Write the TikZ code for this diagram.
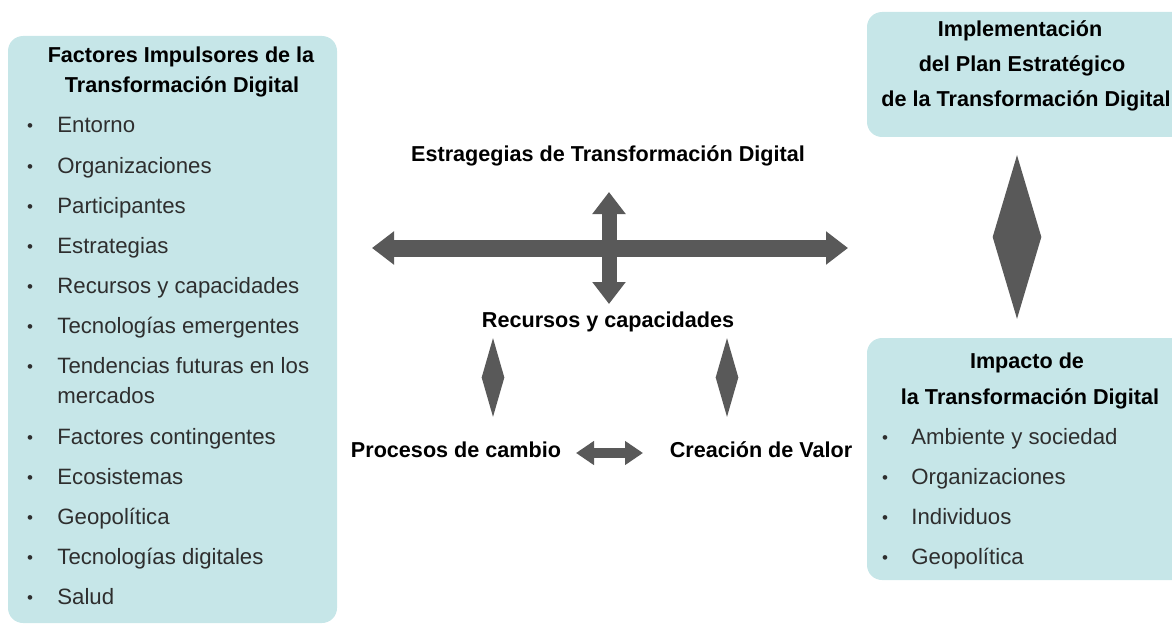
\documentclass[tikz,border=0pt]{standalone}
\usepackage{fontspec}
\setmainfont{Liberation Sans}
\usetikzlibrary{positioning,arrows.meta,shapes.geometric}

\definecolor{panelfill}{HTML}{C6E6E8}
\definecolor{arrowgray}{HTML}{595959}
\definecolor{itemgray}{HTML}{2E2E2E}

\tikzset{
  panel/.style={fill=panelfill, rounded corners=7.5pt, inner sep=0pt},
  head/.style={font=\fontsize{10.8}{12}\selectfont\bfseries, anchor=base, inner sep=0pt},
  item/.style={font=\fontsize{11.1}{12}\selectfont, text=itemgray, anchor=base west, inner sep=0pt},
  bullet/.style={font=\fontsize{8.5}{9}\selectfont, text=itemgray, anchor=base, inner sep=0pt},
  fatarrow/.style={arrowgray, line width=8.5pt, {Triangle[length=11pt,width=16pt]}-{Triangle[length=11pt,width=16pt]}},
  thinarrow/.style={arrowgray, line width=5pt, {Triangle[length=9pt,width=11.5pt]}-{Triangle[length=9pt,width=11.5pt]}},
  spindle/.style={diamond, fill=arrowgray, inner sep=0pt}
}

\begin{document}
\begin{tikzpicture}[x=0.5pt,y=-0.5pt]
		\useasboundingbox (0,0) rectangle (1172,626);
		
		% Draw the boxes
		\node[panel, minimum width=164.5pt, minimum height=293.5pt] (drivers) at (172.5,329.5) {};
		\node[panel, minimum width=165pt, minimum height=62.5pt] (plan) at (1032,74.5) {};
		\node[panel, minimum width=165pt, minimum height=121pt] (impact) at (1032,459) {};
		
		% Left box text
		\node[head] (drvt1) at (181,63) {Factores Impulsores de la};
		\node[head] (drvt2) at (182,93) {Transformación Digital};
		\foreach \y/\txt [count=\i] in {133/Entorno, 173/Organizaciones, 213/Participantes,
			253/Estrategias, 293/Recursos y capacidades, 333/Tecnologías emergentes,
			373/Tendencias futuras en los, 444/Factores contingentes, 484/Ecosistemas,
			524/Geopolítica, 564/Tecnologías digitales, 604/Salud} {
			\node[bullet] (db\i) at (30,\y-1) {•};
			\node[item] (di\i) at (57,\y) {\txt};
		}
		\node[item] (di7b) at (57,403) {mercados};
		
		% Right boxes text
		\node[head] (plant1) at (1020,37) {Implementación};
		\node[head] (plant2) at (1022,72) {del Plan Estratégico};
		\node[head] (plant3) at (1026,107) {de la Transformación Digital};
		\node[head] (impt1) at (1027,368) {Impacto de};
		\node[head] (impt2) at (1030,404) {la Transformación Digital};
		\foreach \y/\txt [count=\i] in {444/Ambiente y sociedad, 484/Organizaciones,
			524/Individuos, 564/Geopolítica} {
			\node[bullet] (ib\i) at (885,\y-1) {•};
			\node[item] (ii\i) at (911,\y) {\txt};
		}
		
		% Middle labels
		\node[head] (strat) at (608,162) {Estragegias de Transformación Digital};
		\node[head] (recur) at (608,327) {Recursos y capacidades};
		\node[head] (proc) at (456,457) {Procesos de cambio};
		\node[head] (valor) at (761,457) {Creación de Valor};
		
		% Arrows
		\coordinate (hl) at (372,248);
		\coordinate (hr) at (848,248);
		\coordinate (vt) at (609,192);
		\coordinate (vb) at (609,304);
		\draw[fatarrow] (hl) -- (hr);
		\draw[fatarrow, line width=7.5pt] (vt) -- (vb);
		\coordinate (pl) at (576,453);
		\coordinate (pr) at (643,453);
		\draw[thinarrow] (pl) -- (pr);
		
		% Spindles
		\node[spindle, minimum width=24.5pt, minimum height=82pt] (planlink) at (1017,237) {};
		\node[spindle, minimum width=11.5pt, minimum height=39.5pt] (proclink) at (493,377.5) {};
		\node[spindle, minimum width=11.5pt, minimum height=39.5pt] (valorlink) at (727,377.5) {};
		
	\end{tikzpicture}
\end{document}
